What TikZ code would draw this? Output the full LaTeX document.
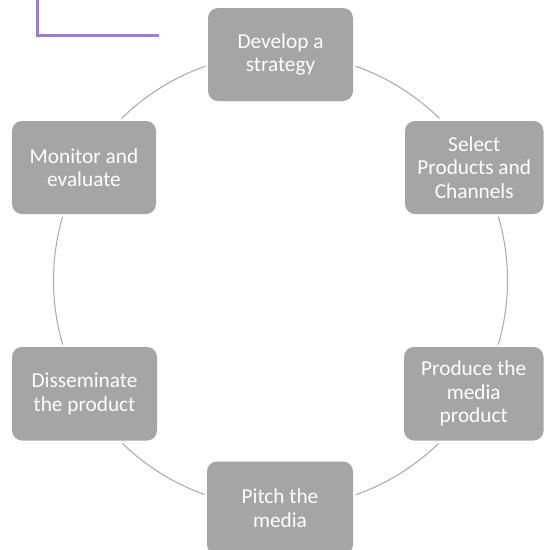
\documentclass[tikz,border=0pt]{standalone}
\usepackage{fontspec}
\setmainfont{Carlito}
\definecolor{boxgray}{RGB}{165,165,165}
\definecolor{ringgray}{RGB}{168,168,168}
\definecolor{markpurple}{RGB}{160,125,200}
\tikzset{
  stepbox/.style={rectangle, rounded corners=10pt, fill=boxgray, text=white,
    align=center, inner sep=0pt, font=\fontsize{21.3}{23.5}\selectfont,
    preaction={draw=white, line width=5pt}},
  ring/.style={draw=ringgray, line width=1pt},
  markline/.style={draw=markpurple, line width=2.2pt, line cap=rect}
}
\begin{document}
\begin{tikzpicture}[x=1pt,y=-1pt]
\useasboundingbox (0,0) rectangle (544,550);
\clip (0,0) rectangle (544,550);
\fill[white] (0,0) rectangle (544,550);
% purple corner mark
\coordinate (pa) at (37.5,-2);
\coordinate (pb) at (37.5,35.5);
\coordinate (pc) at (158,35.5);
\path[markline] (pa) -- (pb) -- (pc);
% ring
\coordinate (ctr) at (280.5,280.5);
\draw[ring] (ctr) circle[radius=227pt];
% steps
\node[stepbox, minimum width=145pt, minimum height=93pt] (dev) at (280.5,54.5) {Develop a\\strategy};
\node[stepbox, minimum width=138.5pt, minimum height=93pt] (sel) at (474.25,167.5) {Select\\Products and\\Channels};
\node[stepbox, minimum width=139.5pt, minimum height=93.5pt] (pro) at (473.75,393.75) {Produce the\\media\\product};
\node[stepbox, minimum width=146pt, minimum height=93pt] (pit) at (280,508) {Pitch the\\media};
\node[stepbox, minimum width=145pt, minimum height=93.5pt] (dis) at (84.5,393.75) {Disseminate\\the product};
\node[stepbox, minimum width=144pt, minimum height=93pt] (mon) at (84,167.5) {Monitor and\\evaluate};
\end{tikzpicture}
\end{document}
